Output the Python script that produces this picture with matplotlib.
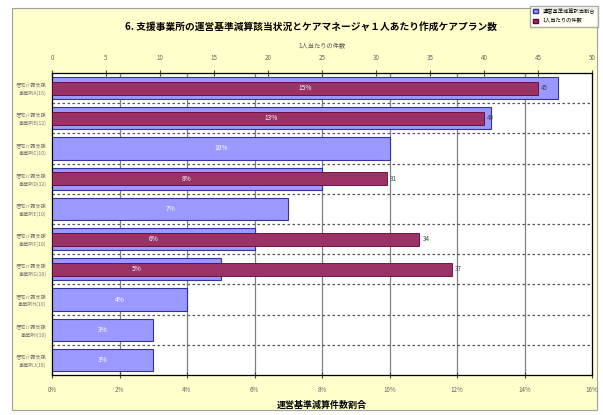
import numpy as np
import matplotlib
matplotlib.use("Agg")
import matplotlib.pyplot as plt
from matplotlib.patches import Rectangle, Patch

plt.rcParams['font.family'] = ['Noto Sans CJK JP', 'DejaVu Sans']


# DONNÉES

categories = [
    "居宅介護支援\n事業所A(16)",
    "居宅介護支援\n事業所B(12)",
    "居宅介護支援\n事業所C(10)",
    "居宅介護支援\n事業所D(12)",
    "居宅介護支援\n事業所E(10)",
    "居宅介護支援\n事業所F(10)",
    "居宅介護支援\n事業所G(10)",
    "居宅介護支援\n事業所H(10)",
    "居宅介護支援\n事業所I(10)",
    "居宅介護支援\n事業所J(10)",
]
pct = [15, 13, 10, 8, 7, 6, 5, 4, 3, 3]
count = [45, 40, None, 31, None, 34, 37, None, None, None]

pct_ticks = list(range(0, 17, 2))
count_ticks = list(range(0, 51, 5))

title = "6. 支援事業所の運営基準減算該当状況とケアマネージャ１人あたり作成ケアプラン数"
label_top = "1人当たりの件数"
label_bottom = "運営基準減算件数割合"
legend_labels = ["運営基準減算該当割合", "1人当たりの件数"]

BLEU = "#9999FF"
BORDEAUX = "#993366"


# FIGURE

fig = plt.figure(figsize=(6.03, 4.15), dpi=100)
fig.patch.set_facecolor("white")

# zone jaune du graphique
fond = Rectangle((12/603, 1-410/415), 585/603, 402/415,
                 transform=fig.transFigure, facecolor="#FFFFCC",
                 edgecolor="#A0A0A0", linewidth=0.8, zorder=-10)
fig.add_artist(fond)

ax = fig.add_axes([52/603, 1-375/415, 540/603, 302/415])
ax.set_facecolor("white")

y = np.arange(len(categories))

ax.barh(y, pct, height=0.73, color=BLEU, edgecolor="#333399", linewidth=0.8, zorder=3)

ax.set_xlim(0, 16)
ax.set_ylim(len(categories)-0.5, -0.5)
ax.set_xticks(pct_ticks)
ax.set_xticklabels([f"{t}%" for t in pct_ticks], fontsize=4.5, color="#666666")
ax.set_yticks(y)
ax.set_yticklabels(categories, fontsize=3.7, color="#777777", linespacing=1.5)
ax.tick_params(axis="y", length=0, pad=4)
ax.tick_params(axis="x", direction="inout", length=4, color="#444444", pad=6)
ax.set_xlabel(label_bottom, fontsize=6.5, fontweight="bold", labelpad=5)

# grille verticale
for t in pct_ticks[1:-1]:
    ax.axvline(t, color="#808080", linewidth=0.9, zorder=1)
# séparateurs pointillés
for b in np.arange(0.5, len(categories)-0.5, 1):
    ax.axhline(b, color="#555555", linewidth=0.9, linestyle=(0, (2, 2)), zorder=1)

for s in ax.spines.values():
    s.set_color("#555555")
    s.set_linewidth(0.9)

# AXE DU HAUT

ax2 = ax.twiny()
ax2.patch.set_visible(False)
ax2.set_xlim(0, 50)
ax2.set_xticks(count_ticks)
ax2.set_xticklabels([str(t) for t in count_ticks], fontsize=4.5, color="#666666")
ax2.tick_params(axis="x", direction="inout", length=4, color="#444444", pad=6)
ax2.set_xlabel(label_top, fontsize=4.5, color="#555555", labelpad=5)

yc = [i for i, c in enumerate(count) if c is not None]
vc = [c for c in count if c is not None]
ax2.barh(yc, vc, height=0.43, color=BORDEAUX, edgecolor="#660033", linewidth=0.6, zorder=4)

for i, c in zip(yc, vc):
    ax2.text(c + 0.3, i, str(c), fontsize=4.5, color="#444444", va="center", ha="left", zorder=6)

for i, p in enumerate(pct):
    ax2.text(p/2, i, f"{p}%", transform=ax.transData, fontsize=4.8, color="white",
             ha="center", va="center", zorder=6)

# TITRE ET LÉGENDE

fig.text(311/603, 1-27/415, title, fontsize=7, fontweight="bold", ha="center", va="center")

handles = [Patch(facecolor=BLEU, edgecolor="#333399"), Patch(facecolor=BORDEAUX, edgecolor="#660033")]
fig.legend(handles, legend_labels, loc="upper right", bbox_to_anchor=(601/603, 1-3/415),
           fontsize=3.8, frameon=True, fancybox=False, edgecolor="#999999",
           handlelength=1.0, handleheight=0.8, borderpad=0.6, labelspacing=0.8)

plt.savefig("out.png", dpi=100)
